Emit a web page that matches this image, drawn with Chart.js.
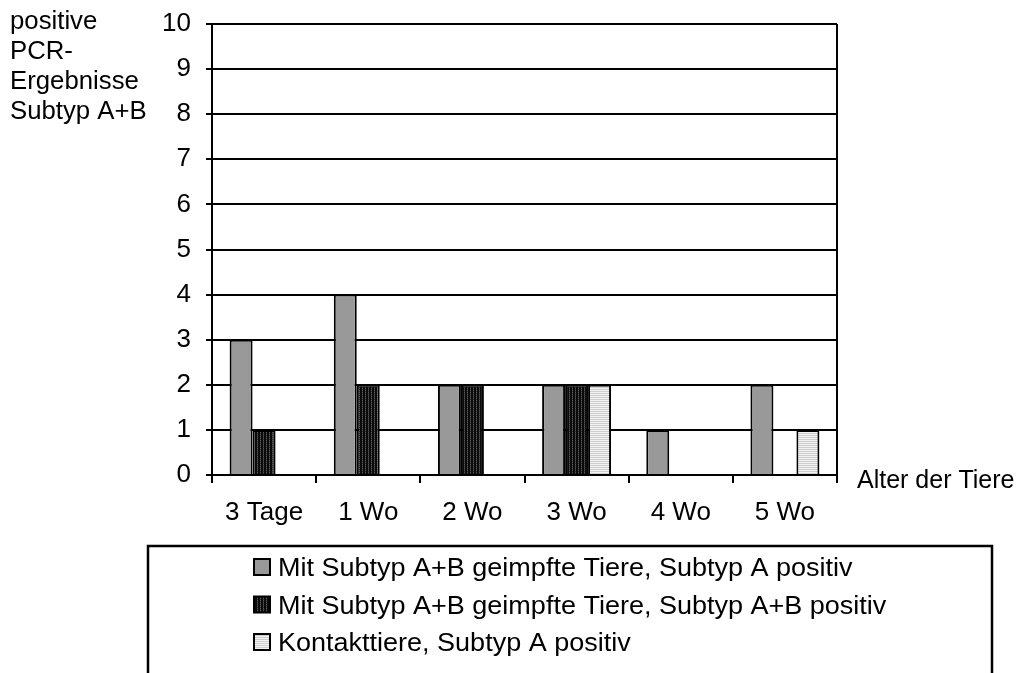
<!DOCTYPE html>
<html>
<head>
<meta charset="utf-8">
<script src="https://cdn.jsdelivr.net/npm/chart.js@4/dist/chart.umd.min.js"></script>
<style>
  html, body { margin: 0; padding: 0; background: #fff; }
  #wrap { width: 1026px; height: 673px; position: relative; }
</style>
</head>
<body>
<div id="wrap"><canvas id="c" width="1026" height="673"></canvas></div>
<script>
// Altersstufen und positive PCR-Befunde je Gruppe
const categories = ['3 Tage', '1 Wo', '2 Wo', '3 Wo', '4 Wo', '5 Wo'];
const impfA = [3, 4, 2, 2, 1, 2];
const impfAB = [1, 2, 2, 2, 0, 0];
const kontaktA = [0, 0, 0, 2, 0, 1];
const seriesLabels = [
  'Mit Subtyp A+B geimpfte Tiere, Subtyp A positiv',
  'Mit Subtyp A+B geimpfte Tiere, Subtyp A+B positiv',
  'Kontakttiere, Subtyp A positiv'
];
const yTitle = ['positive', 'PCR-', 'Ergebnisse', 'Subtyp A+B'];
const xTitle = 'Alter der Tiere';

const FONT = 'Liberation Sans, Arial, sans-serif';
const FS = 25;        // Schriftgröße für Titel und Legende
const TICK_FS = 26;   // Schriftgröße der Achsenbeschriftung

function makePattern(w, h, painter) {
  const cv = document.createElement('canvas');
  cv.width = w; cv.height = h;
  const g = cv.getContext('2d');
  painter(g);
  return g.createPattern(cv, 'repeat');
}
const ctx = document.getElementById('c').getContext('2d');

const solidGray = '#999999';
const darkStripe = makePattern(3, 2, g => {
  g.fillStyle = '#0a0a0a'; g.fillRect(0, 0, 3, 2);
  g.fillStyle = '#5a5a5a'; g.fillRect(2, 0, 1, 1);
  g.fillStyle = '#333333'; g.fillRect(2, 1, 1, 1);
});
const lightStripe = makePattern(2, 2, g => {
  g.fillStyle = '#f2f2f2'; g.fillRect(0, 0, 2, 2);
  g.fillStyle = '#cfcfcf'; g.fillRect(0, 1, 2, 1);
});
const fills = [solidGray, darkStripe, lightStripe];

// Text mit leichter horizontaler Streckung
function wideText(c, t, x, y, sx) {
  c.save();
  c.translate(x, y);
  c.scale(sx, 1);
  c.fillText(t, 0, 0);
  c.restore();
}

// Rahmen rechts, Achsentitel und Legendenkasten
const decor = {
  id: 'decor',
  afterDraw(chart) {
    const c = chart.ctx;
    const a = chart.chartArea;
    c.save();
    c.strokeStyle = '#000';
    c.lineWidth = 2;
    c.beginPath();
    c.moveTo(a.right, a.top);
    c.lineTo(a.right, a.bottom);
    c.stroke();

    c.fillStyle = '#000';
    c.font = FS + 'px ' + FONT;
    c.textBaseline = 'middle';
    c.textAlign = 'left';
    yTitle.forEach((t, i) => wideText(c, t, 10, 22 + i * 30, 1.03));
    wideText(c, xTitle, 857, 481, 1.0);

    // Legende
    c.lineWidth = 2.5;
    c.strokeRect(148, 546, 844, 160);
    c.textBaseline = 'alphabetic';
    chart.data.datasets.forEach((ds, i) => {
      const base = 576 + i * 37.5;
      c.fillStyle = ds.backgroundColor;
      c.fillRect(254, base - 17, 16, 16);
      c.lineWidth = 2;
      c.strokeStyle = '#000';
      c.strokeRect(254, base - 17, 16, 16);
      c.fillStyle = '#000';
      wideText(c, ds.label, 278, base, 1.08);
    });
    c.restore();
  }
};

new Chart(ctx, {
  type: 'bar',
  data: {
    labels: categories,
    datasets: [impfA, impfAB, kontaktA].map((d, i) => ({
      label: seriesLabels[i],
      data: d,
      backgroundColor: fills[i],
      borderColor: '#000',
      borderWidth: 2,
      borderSkipped: 'bottom',
      categoryPercentage: 0.662,
      barPercentage: 1.0
    }))
  },
  options: {
    responsive: false,
    animation: false,
    devicePixelRatio: 1,
    layout: { padding: { top: 24, right: 189, bottom: 0, left: 0 } },
    plugins: { legend: { display: false }, tooltip: { enabled: false } },
    scales: {
      x: {
        offset: true,
        grid: {
          display: true, drawOnChartArea: false, drawTicks: true,
          tickLength: 8, color: '#000', lineWidth: 2, offset: true
        },
        border: { display: true, color: '#000', width: 2 },
        ticks: { color: '#000', font: { family: FONT, size: TICK_FS }, padding: 14, maxRotation: 0 },
        afterFit(s) { s.height = 673 - 475; s.paddingLeft = 0; s.paddingRight = 0; }
      },
      y: {
        min: 0, max: 10,
        grid: { color: '#000', lineWidth: 2, tickLength: 6, drawTicks: true },
        border: { display: true, color: '#000', width: 2 },
        ticks: { stepSize: 1, color: '#000', font: { family: FONT, size: TICK_FS }, padding: 15 },
        afterFit(s) { s.width = 212; s.paddingTop = 0; s.paddingBottom = 0; }
      }
    }
  },
  plugins: [decor]
});
</script>
</body>
</html>
